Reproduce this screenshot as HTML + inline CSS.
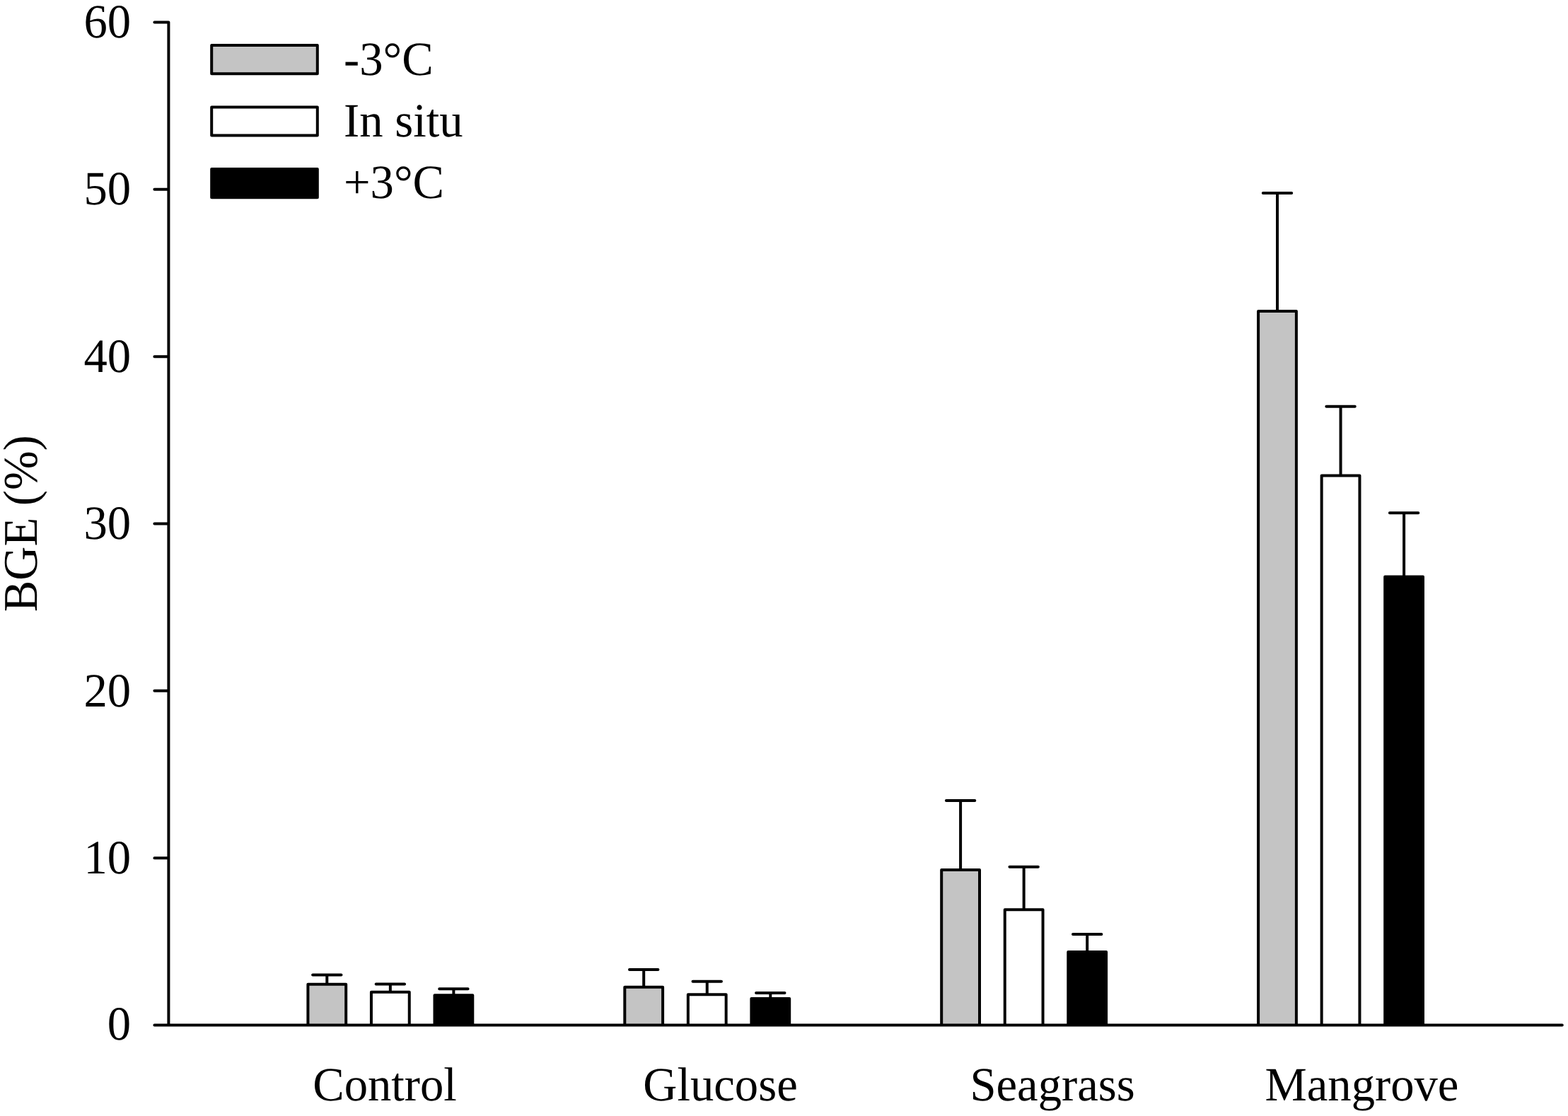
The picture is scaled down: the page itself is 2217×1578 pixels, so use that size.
<!DOCTYPE html>
<html lang="en"><head><meta charset="utf-8"><title>BGE (%) by substrate and temperature</title>
<style>html,body{margin:0;padding:0;background:#fff;overflow:hidden}svg{display:block}text{font-family:"Liberation Serif","DejaVu Serif",serif;font-size:66.67px;fill:#000;text-rendering:geometricPrecision}</style>
</head><body>
<svg width="2217" height="1578" viewBox="0 0 2217 1578">
<rect width="2217" height="1578" fill="#fff"/>
<g stroke="#000" stroke-width="4.0" stroke-linejoin="round" fill="none">
<!-- Control -->
<path stroke-linecap="round" d="M462.3 1391.8V1378.45M442.1 1378.45H482.5"/>
<path fill="#c4c4c4" d="M435.4 1449.6V1391.8H489.2V1449.6"/>
<path stroke-linecap="round" d="M551.85 1402.75V1391.6M531.65 1391.6H572.05"/>
<path fill="#fff" d="M524.95 1449.6V1402.75H578.75V1449.6"/>
<path stroke-linecap="round" d="M641.4 1407.35V1398.3M621.2 1398.3H661.6"/>
<path fill="#000" d="M614.5 1449.6V1407.35H668.3V1449.6"/>
<!-- Glucose -->
<path stroke-linecap="round" d="M910.2 1395.8V1371M890 1371H930.4"/>
<path fill="#c4c4c4" d="M883.3 1449.6V1395.8H937.1V1449.6"/>
<path stroke-linecap="round" d="M999.75 1406.2V1387.7M979.55 1387.7H1019.95"/>
<path fill="#fff" d="M972.85 1449.6V1406.2H1026.65V1449.6"/>
<path stroke-linecap="round" d="M1089.3 1412.1V1404.1M1069.1 1404.1H1109.5"/>
<path fill="#000" d="M1062.4 1449.6V1412.1H1116.2V1449.6"/>
<!-- Seagrass -->
<path stroke-linecap="round" d="M1358.1 1229.9V1132.05M1337.9 1132.05H1378.3"/>
<path fill="#c4c4c4" d="M1331.2 1449.6V1229.9H1385V1449.6"/>
<path stroke-linecap="round" d="M1447.65 1286.25V1225.85M1427.45 1225.85H1467.85"/>
<path fill="#fff" d="M1420.75 1449.6V1286.25H1474.55V1449.6"/>
<path stroke-linecap="round" d="M1537.2 1346V1321M1517 1321H1557.4"/>
<path fill="#000" d="M1510.3 1449.6V1346H1564.1V1449.6"/>
<!-- Mangrove -->
<path stroke-linecap="round" d="M1806 440V272.9M1785.8 272.9H1826.2"/>
<path fill="#c4c4c4" d="M1779.1 1449.6V440H1832.9V1449.6"/>
<path stroke-linecap="round" d="M1895.55 672.45V574.8M1875.35 574.8H1915.75"/>
<path fill="#fff" d="M1868.65 1449.6V672.45H1922.45V1449.6"/>
<path stroke-linecap="round" d="M1985.1 815.55V725.2M1964.9 725.2H2005.3"/>
<path fill="#000" d="M1958.2 1449.6V815.55H2012V1449.6"/>
<!-- axes -->
<path stroke-linecap="round" d="M238.4 31.4V1449.6M218.4 1449.6H2208.8M218.4 1213.23H238.4M218.4 976.87H238.4M218.4 740.5H238.4M218.4 504.13H238.4M218.4 267.77H238.4M218.4 31.4H238.4"/>
<!-- legend -->
<rect x="299.2" y="64.1" width="149.6" height="40.2" fill="#c4c4c4"/>
<rect x="299.2" y="151.4" width="149.6" height="40.2" fill="#fff"/>
<rect x="299.2" y="239" width="149.6" height="40.2" fill="#000"/>
</g>
<text transform="translate(185.2 1470) scale(1 1.015)" text-anchor="end">0</text>
<text transform="translate(185.2 1235) scale(1 1.015)" text-anchor="end">10</text>
<text transform="translate(185.2 999) scale(1 1.015)" text-anchor="end">20</text>
<text transform="translate(185.2 762) scale(1 1.015)" text-anchor="end">30</text>
<text transform="translate(185.2 526) scale(1 1.015)" text-anchor="end">40</text>
<text transform="translate(185.2 289) scale(1 1.015)" text-anchor="end">50</text>
<text transform="translate(185.2 53) scale(1 1.015)" text-anchor="end">60</text>
<text transform="translate(486 106) scale(1 1.012)">-3°C</text>
<text transform="translate(486 193) scale(1 1.012)">In situ</text>
<text transform="translate(486 280) scale(1 1.012)">+3°C</text>
<text transform="translate(442.2 1556) scale(1 1.012)">Control</text>
<text transform="translate(909.3 1556) scale(1 1.012)">Glucose</text>
<text transform="translate(1371.4 1556) scale(1 1.012)">Seagrass</text>
<text transform="translate(1788.5 1556) scale(1 1.012)">Mangrove</text>
<text transform="translate(52.4 740.2) rotate(-90) scale(1 1.026)" text-anchor="middle">BGE (%)</text>
</svg>
</body></html>
